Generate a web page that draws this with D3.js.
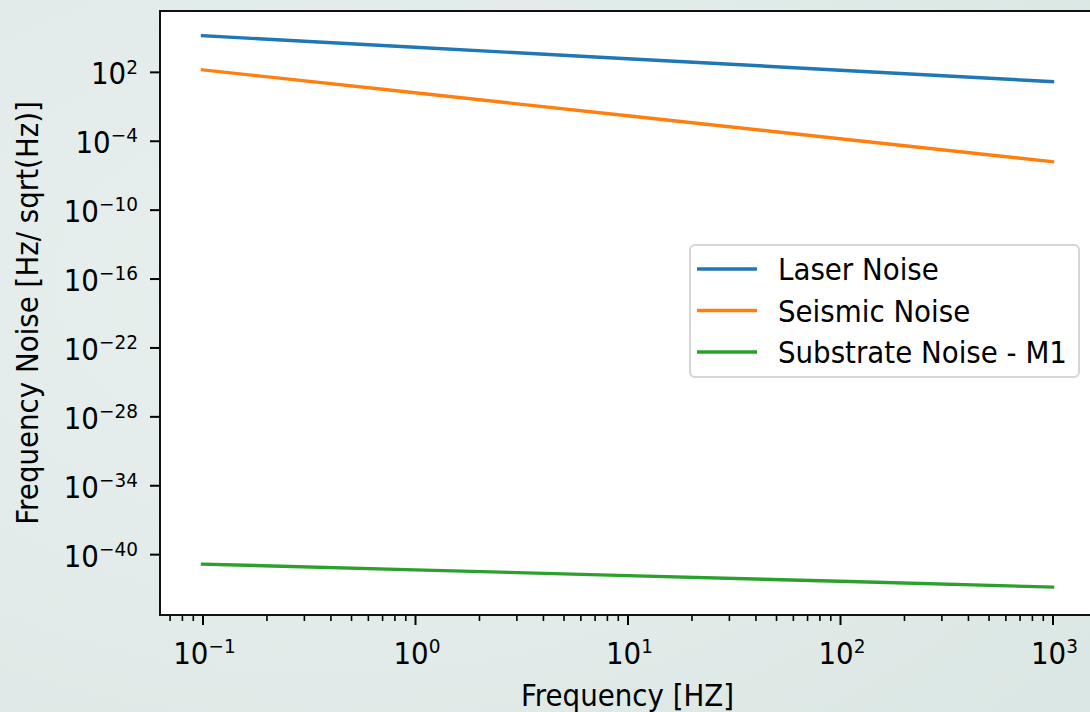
<!DOCTYPE html>
<html>
<head>
<meta charset="utf-8">
<script src="https://cdn.jsdelivr.net/npm/d3@7"></script>
<style>
  body { margin: 0; overflow: hidden; }
  svg { display: block; font-family: "DejaVu Sans", sans-serif; }
</style>
</head>
<body>
<div id="chart"></div>
<script>
// values (log-log, straight lines)
const freqs = [0.1, 1, 10, 100, 1000];
const laserNoise = [1.4e5, 1.4e4, 1.4e3, 140, 14];
const seismicNoise = [150, 1.5, 0.015, 1.5e-4, 1.5e-6];
const substrateNoise = [1.35e-41, 4.3e-42, 1.35e-42, 4.3e-43, 1.35e-43];
const seriesNames = ["Laser Noise", "Seismic Noise", "Substrate Noise - M1"];
const colors = ["#1f77b4", "#ff7f0e", "#2ca02c"];
const xTickExps = [-1, 0, 1, 2, 3];
const yTickExps = [2, -4, -10, -16, -22, -28, -34, -40];

const W = 1090, H = 712;
const plotL = 160, plotR = 1095, plotT = 11, plotB = 615;
const fs = 27.7, stretch = 1.08; // source image is slightly taller than wide

const svg = d3.select("#chart").append("svg")
  .attr("width", W).attr("height", H);

// figure background
const defs = svg.append("defs");
const grad = defs.append("radialGradient").attr("id", "bg")
  .attr("cx", "30%").attr("cy", "40%").attr("r", "90%");
grad.append("stop").attr("offset", "0%").attr("stop-color", "#e9f0ef");
grad.append("stop").attr("offset", "100%").attr("stop-color", "#dbe7e4");
svg.append("rect").attr("width", W).attr("height", H).attr("fill", "url(#bg)");

svg.append("rect")
  .attr("x", plotL).attr("y", plotT)
  .attr("width", plotR - plotL).attr("height", plotB - plotT)
  .attr("fill", "#fff");

const x = d3.scaleLog().domain([Math.pow(10, -1.2), Math.pow(10, 3.2)]).range([plotL, plotR]);
const y = d3.scaleLog().domain([Math.pow(10, -45.3), Math.pow(10, 7.3)]).range([plotB, plotT]);

// text placed at (tx, ty) baseline, stretched a bit vertically
function label(parent, tx, ty, anchor, rot) {
  return parent.append("text")
    .attr("transform", `translate(${tx},${ty})${rot ? " rotate(" + rot + ")" : ""} scale(1,${stretch})`)
    .attr("text-anchor", anchor)
    .attr("font-size", fs).attr("fill", "#000");
}

// lines
const allSeries = [laserNoise, seismicNoise, substrateNoise];
const line = d3.line().x(d => x(d[0])).y(d => y(d[1]));
allSeries.forEach((vals, i) => {
  svg.append("path")
    .datum(freqs.map((f, j) => [f, vals[j]]))
    .attr("d", line)
    .attr("fill", "none")
    .attr("stroke", colors[i])
    .attr("stroke-width", 3.4)
    .attr("stroke-linecap", "square");
});

// minor x ticks
const minor = [];
for (let k = -2; k <= 2; k++) {
  for (let m = 2; m <= 9; m++) {
    const v = m * Math.pow(10, k);
    if (v > x.domain()[0] && v < x.domain()[1]) minor.push(v);
  }
}
svg.append("g")
  .attr("transform", `translate(0,${plotB})`)
  .call(d3.axisBottom(x).tickValues(minor).tickSize(6).tickFormat(""))
  .call(g => g.select(".domain").remove())
  .call(g => g.selectAll("line").attr("stroke", "#000").attr("stroke-width", 1.6));

// major x ticks
const xAxis = svg.append("g")
  .attr("transform", `translate(0,${plotB})`)
  .call(d3.axisBottom(x).tickValues(xTickExps.map(e => Math.pow(10, e))).tickSize(10).tickFormat(""));
xAxis.select(".domain").remove();
xAxis.selectAll("line").attr("stroke", "#000").attr("stroke-width", 2);

function powLabel(sel, e) {
  sel.append("tspan").text("10");
  sel.append("tspan").attr("font-size", 18.5).attr("dy", -10)
    .text(e < 0 ? "\u2212" + (-e) : String(e));
}

xTickExps.forEach(e => {
  powLabel(label(svg, x(Math.pow(10, e)) + 2, 664, "middle"), e);
});

// y ticks
const yAxis = svg.append("g")
  .attr("transform", `translate(${plotL},0)`)
  .call(d3.axisLeft(y).tickValues(yTickExps.map(e => Math.pow(10, e))).tickSize(10).tickFormat(""));
yAxis.select(".domain").remove();
yAxis.selectAll("line").attr("stroke", "#000").attr("stroke-width", 2);

yTickExps.forEach(e => {
  powLabel(label(svg, 138, y(Math.pow(10, e)) + 12.5, "end"), e);
});

// spines
svg.append("rect")
  .attr("x", plotL).attr("y", plotT)
  .attr("width", plotR - plotL).attr("height", plotB - plotT)
  .attr("fill", "none").attr("stroke", "#111").attr("stroke-width", 2);

// axis labels
label(svg, (plotL + plotR) / 2, 706, "middle").text("Frequency [HZ]");
label(svg, 38, (plotT + plotB) / 2, "middle", -90).text("Frequency Noise [Hz/ sqrt(Hz)]");

// legend
const lg = svg.append("g").attr("transform", "translate(690,245)");
lg.append("rect")
  .attr("width", 389).attr("height", 132).attr("rx", 5)
  .attr("fill", "#fff").attr("fill-opacity", 0.85)
  .attr("stroke", "#d5d5d5").attr("stroke-width", 2);
seriesNames.forEach((name, i) => {
  const ly = 24 + i * 41.5;
  lg.append("line")
    .attr("x1", 7).attr("x2", 67).attr("y1", ly).attr("y2", ly)
    .attr("stroke", colors[i]).attr("stroke-width", 3.4);
  label(lg, 88, ly + 11, "start").text(name);
});
</script>
</body>
</html>
